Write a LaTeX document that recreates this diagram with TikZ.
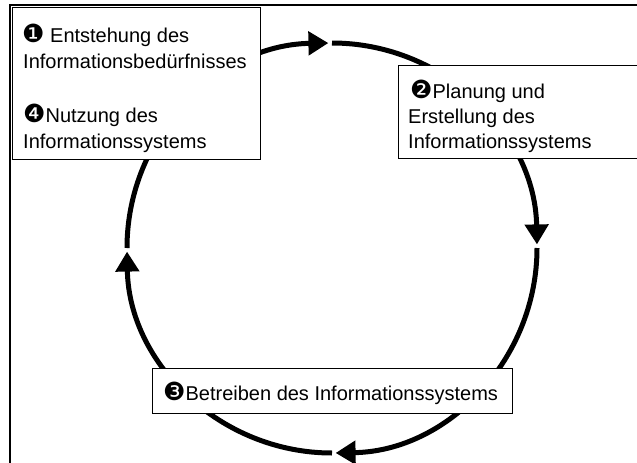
\documentclass[tikz,border=0pt]{standalone}
\usepackage{fontspec}
\setmainfont{Liberation Sans}
\newfontfamily\dingfont{DejaVu Sans}
\usetikzlibrary{arrows.meta}
% negative circled digits come from DejaVu Sans, set a little larger than the text
\newcommand\circnum[1]{{\dingfont\fontsize{25}{24}\selectfont #1}}
\begin{document}
\begin{tikzpicture}[x=1pt,y=1pt,
  frameline/.style={line width=1.5pt},
  infobox/.style={draw=black, fill=white, line width=1.3pt, rectangle,
    anchor=north west, inner sep=0pt},
  txt/.style={anchor=base west, inner sep=0pt, font=\fontsize{20}{24}\selectfont},
  cycle/.style={line width=5pt, -{Triangle[length=20pt,width=23pt]}}]
\useasboundingbox (0,0) rectangle (637,-463);

% partial outer frame
\draw[frameline] (10,-463) -- (10,-5) -- (640,-5);

% life cycle: four clockwise quarter arcs
\coordinate (c) at (332,-248);
\draw[cycle] ([shift={(180:205)}]c) arc[start angle=180, end angle=91, radius=205];
\draw[cycle] ([shift={(90:205)}]c) arc[start angle=90, end angle=1, radius=205];
\draw[cycle] ([shift={(0:205)}]c) arc[start angle=0, end angle=-89, radius=205];
\draw[cycle] ([shift={(-90:205)}]c) arc[start angle=-90, end angle=-179, radius=205];

% phase boxes
\node[infobox, minimum width=248pt, minimum height=152pt] (box1) at (12,-7) {};
\node[infobox, minimum width=250pt, minimum height=93pt] (box2) at (398,-65) {};
\node[infobox, minimum width=360pt, minimum height=45pt] (box3) at (152,-368) {};

% box 1
\node[txt] (t1a) at (22,-42) {\circnum{❶} Entstehung des};
\node[txt] (t1b) at (23,-68) {Informationsbedürfnisses};
\node[txt] (t4a) at (23,-122) {\circnum{❹}Nutzung des};
\node[txt] (t4b) at (23,-148) {Informationssystems};

% box 2
\node[txt] (t2a) at (410,-98) {\circnum{❷}Planung und};
\node[txt] (t2b) at (408,-123) {Erstellung des};
\node[txt] (t2c) at (408,-148) {Informationssystems};

% box 3
\node[txt] (t3) at (163,-400) {\circnum{❸}Betreiben des Informationssystems};
\end{tikzpicture}
\end{document}
